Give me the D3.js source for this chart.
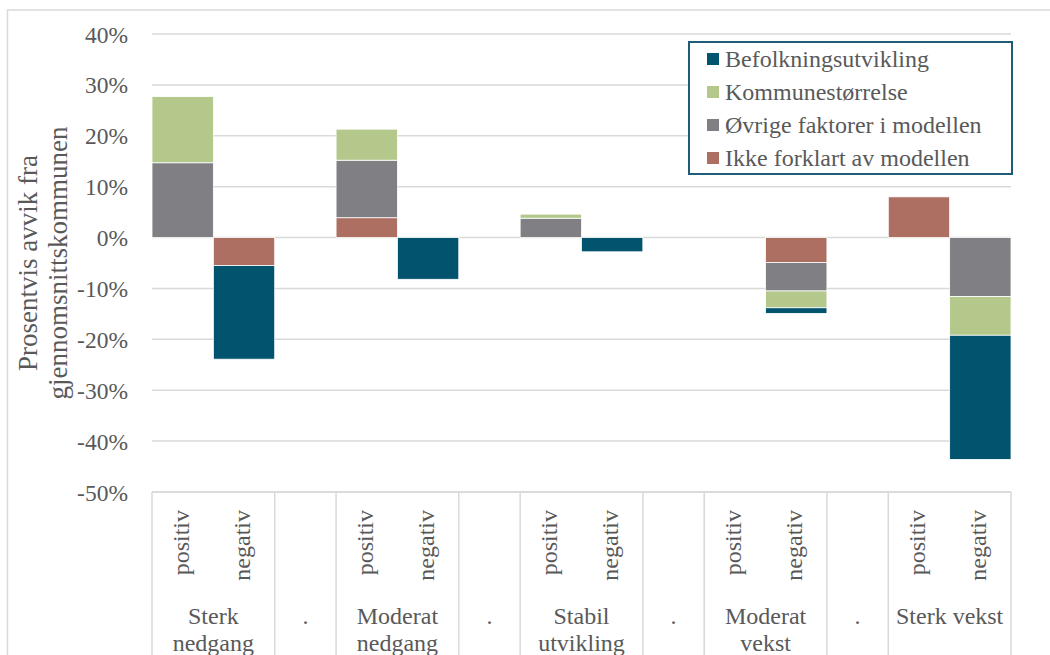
<!DOCTYPE html>
<html>
<head>
<meta charset="utf-8">
<script src="https://cdn.jsdelivr.net/npm/d3@7"></script>
<style>
  html, body { margin: 0; padding: 0; background: #fff; }
  svg { display: block; }
  text { font-family: "Liberation Serif", "DejaVu Serif", serif; fill: #595959; }
</style>
</head>
<body>
<svg id="chart" width="1050" height="655"></svg>
<script>
// ---- Data (percent deviation) ----
const groups = ["Sterk nedgang", "Moderat nedgang", "Stabil utvikling", "Moderat vekst", "Sterk vekst"];
const subLabels = ["positiv", "negativ"];
const separatorLabel = ".";
const seriesNames = ["Befolkningsutvikling", "Kommunestørrelse", "Øvrige faktorer i modellen", "Ikke forklart av modellen"];
const seriesColors = ["#02536d", "#b3c88a", "#807f84", "#ae6f63"];
// one value per slot: positiv, negativ, "." ... (14 slots)
const befolkningsutvikling = [0, -18.4, 0, 0, -8.2, 0, 0, -2.8, 0, 0, -1.1, 0, 0, -24.4];
const kommunestorrelse     = [13.0, 0, 0, 6.1, 0, 0, 0.8, 0, 0, 0, -3.3, 0, 0, -7.6];
const ovrigeFaktorer       = [14.7, 0, 0, 11.3, 0, 0, 3.8, 0, 0, 0, -5.6, 0, 0, -11.6];
const ikkeForklart         = [0, -5.5, 0, 3.9, 0, 0, 0, 0, 0, 0, -4.9, 0, 8.0, 0];
const yTicks = [40, 30, 20, 10, 0, -10, -20, -30, -40, -50];
const yTitle = ["Prosentvis avvik fra", "gjennomsnittskommunen"];

// ---- Build slots ----
const slots = [];
groups.forEach((g, gi) => {
  subLabels.forEach(s => slots.push({ group: g, sub: s, sep: false }));
  if (gi < groups.length - 1) slots.push({ group: separatorLabel, sub: "", sep: true });
});
const rows = slots.map((s, i) => ({
  i,
  "Befolkningsutvikling": befolkningsutvikling[i],
  "Kommunestørrelse": kommunestorrelse[i],
  "Øvrige faktorer i modellen": ovrigeFaktorer[i],
  "Ikke forklart av modellen": ikkeForklart[i]
}));

const svg = d3.select("#chart");
const W = 1050, H = 655;
const plot = { left: 152, right: 1011, top: 34, bottom: 492 };

// outer border
svg.append("rect").attr("x", 7.5).attr("y", 10).attr("width", 1200).attr("height", 800)
  .attr("fill", "none").attr("stroke", "#d9d9d9").attr("stroke-width", 1.5);

const x = d3.scaleBand().domain(slots.map((d, i) => i)).range([plot.left, plot.right]).padding(0);
const y = d3.scaleLinear().domain([-50, 40]).range([plot.bottom, plot.top]);

// gridlines
svg.append("g").selectAll("line").data(yTicks).join("line")
  .attr("x1", plot.left).attr("x2", plot.right)
  .attr("y1", d => y(d)).attr("y2", d => y(d))
  .attr("stroke", "#d9d9d9").attr("stroke-width", 1.5);

// y tick labels
svg.append("g").selectAll("text").data(yTicks).join("text")
  .attr("x", 128).attr("y", d => y(d) + 8.5)
  .attr("text-anchor", "end").attr("font-size", 23.5)
  .text(d => d + "%");

// y title
const yt = svg.append("text").attr("transform", `translate(0,${(plot.top + plot.bottom) / 2}) rotate(-90)`)
  .attr("text-anchor", "middle").attr("font-size", 27);
yt.append("tspan").attr("x", 0).attr("y", 37).text(yTitle[0]);
yt.append("tspan").attr("x", 0).attr("y", 67).text(yTitle[1]);

// stacked bars
const stackOrder = ["Ikke forklart av modellen", "Øvrige faktorer i modellen", "Kommunestørrelse", "Befolkningsutvikling"];
const stack = d3.stack().keys(stackOrder).offset(d3.stackOffsetDiverging);
const stacked = stack(rows);
const colorOf = name => seriesColors[seriesNames.indexOf(name)];

svg.append("g").selectAll("g").data(stacked).join("g")
  .attr("fill", d => colorOf(d.key))
  .selectAll("rect").data(d => d.filter(p => p[1] - p[0] !== 0)).join("rect")
  .attr("x", d => x(d.data.i))
  .attr("width", x.bandwidth())
  .attr("y", d => y(Math.max(d[0], d[1])))
  .attr("height", d => Math.abs(y(d[0]) - y(d[1])))
  .attr("stroke", "#ffffff").attr("stroke-width", 0.8);

// category axis boxes
const boundaries = [];
slots.forEach((s, i) => {
  if (i === 0 || s.sep || (slots[i - 1] && slots[i - 1].sep)) boundaries.push(x(i));
});
boundaries.push(plot.right);
const ax = svg.append("g");
ax.append("line").attr("x1", plot.left).attr("x2", plot.right)
  .attr("y1", plot.bottom).attr("y2", plot.bottom)
  .attr("stroke", "#d9d9d9").attr("stroke-width", 1.5);
ax.selectAll("line.v").data(boundaries).join("line").attr("class", "v")
  .attr("x1", d => d).attr("x2", d => d)
  .attr("y1", plot.bottom).attr("y2", H + 5)
  .attr("stroke", "#d9d9d9").attr("stroke-width", 1.5);

// sub labels (rotated)
ax.selectAll("text.sub").data(slots.filter(s => !s.sep).map(s => ({ s, i: slots.indexOf(s) }))).join("text")
  .attr("class", "sub")
  .attr("transform", d => `translate(${x(d.i) + x.bandwidth() / 2 + 6},510) rotate(-90)`)
  .attr("text-anchor", "end").attr("font-size", 24)
  .text(d => d.s.sub);

// group labels
const groupSpans = [];
let cur = null;
slots.forEach((s, i) => {
  if (s.sep) { groupSpans.push({ label: s.group, x0: x(i), x1: x(i) + x.bandwidth() }); cur = null; return; }
  if (!cur || cur.label !== s.group) { cur = { label: s.group, x0: x(i), x1: x(i) + x.bandwidth() }; groupSpans.push(cur); }
  else cur.x1 = x(i) + x.bandwidth();
});
groupSpans.forEach(g => {
  const t = ax.append("text").attr("text-anchor", "middle").attr("font-size", 24);
  const cx = (g.x0 + g.x1) / 2;
  const maxW = g.x1 - g.x0 - 4;
  const words = g.label.split(" ");
  let lines = [], line = [];
  const probe = ax.append("text").attr("font-size", 24);
  words.forEach(w => {
    const test = line.concat(w).join(" ");
    probe.text(test);
    if (probe.node().getComputedTextLength() > maxW && line.length) { lines.push(line.join(" ")); line = [w]; }
    else line.push(w);
  });
  lines.push(line.join(" "));
  probe.remove();
  lines.forEach((l, k) => t.append("tspan").attr("x", cx).attr("y", 624 + k * 27).text(l));
});

// legend
const lg = svg.append("g");
lg.append("rect").attr("x", 689).attr("y", 42).attr("width", 323).attr("height", 132)
  .attr("fill", "#fff").attr("stroke", "#1d5d78").attr("stroke-width", 2);
seriesNames.forEach((n, k) => {
  const cy = 59 + k * 33;
  lg.append("rect").attr("x", 707).attr("y", cy - 6).attr("width", 12).attr("height", 12).attr("fill", seriesColors[k]);
  lg.append("text").attr("x", 725).attr("y", cy + 7.5).attr("font-size", 24).text(n);
});
</script>
</body>
</html>
